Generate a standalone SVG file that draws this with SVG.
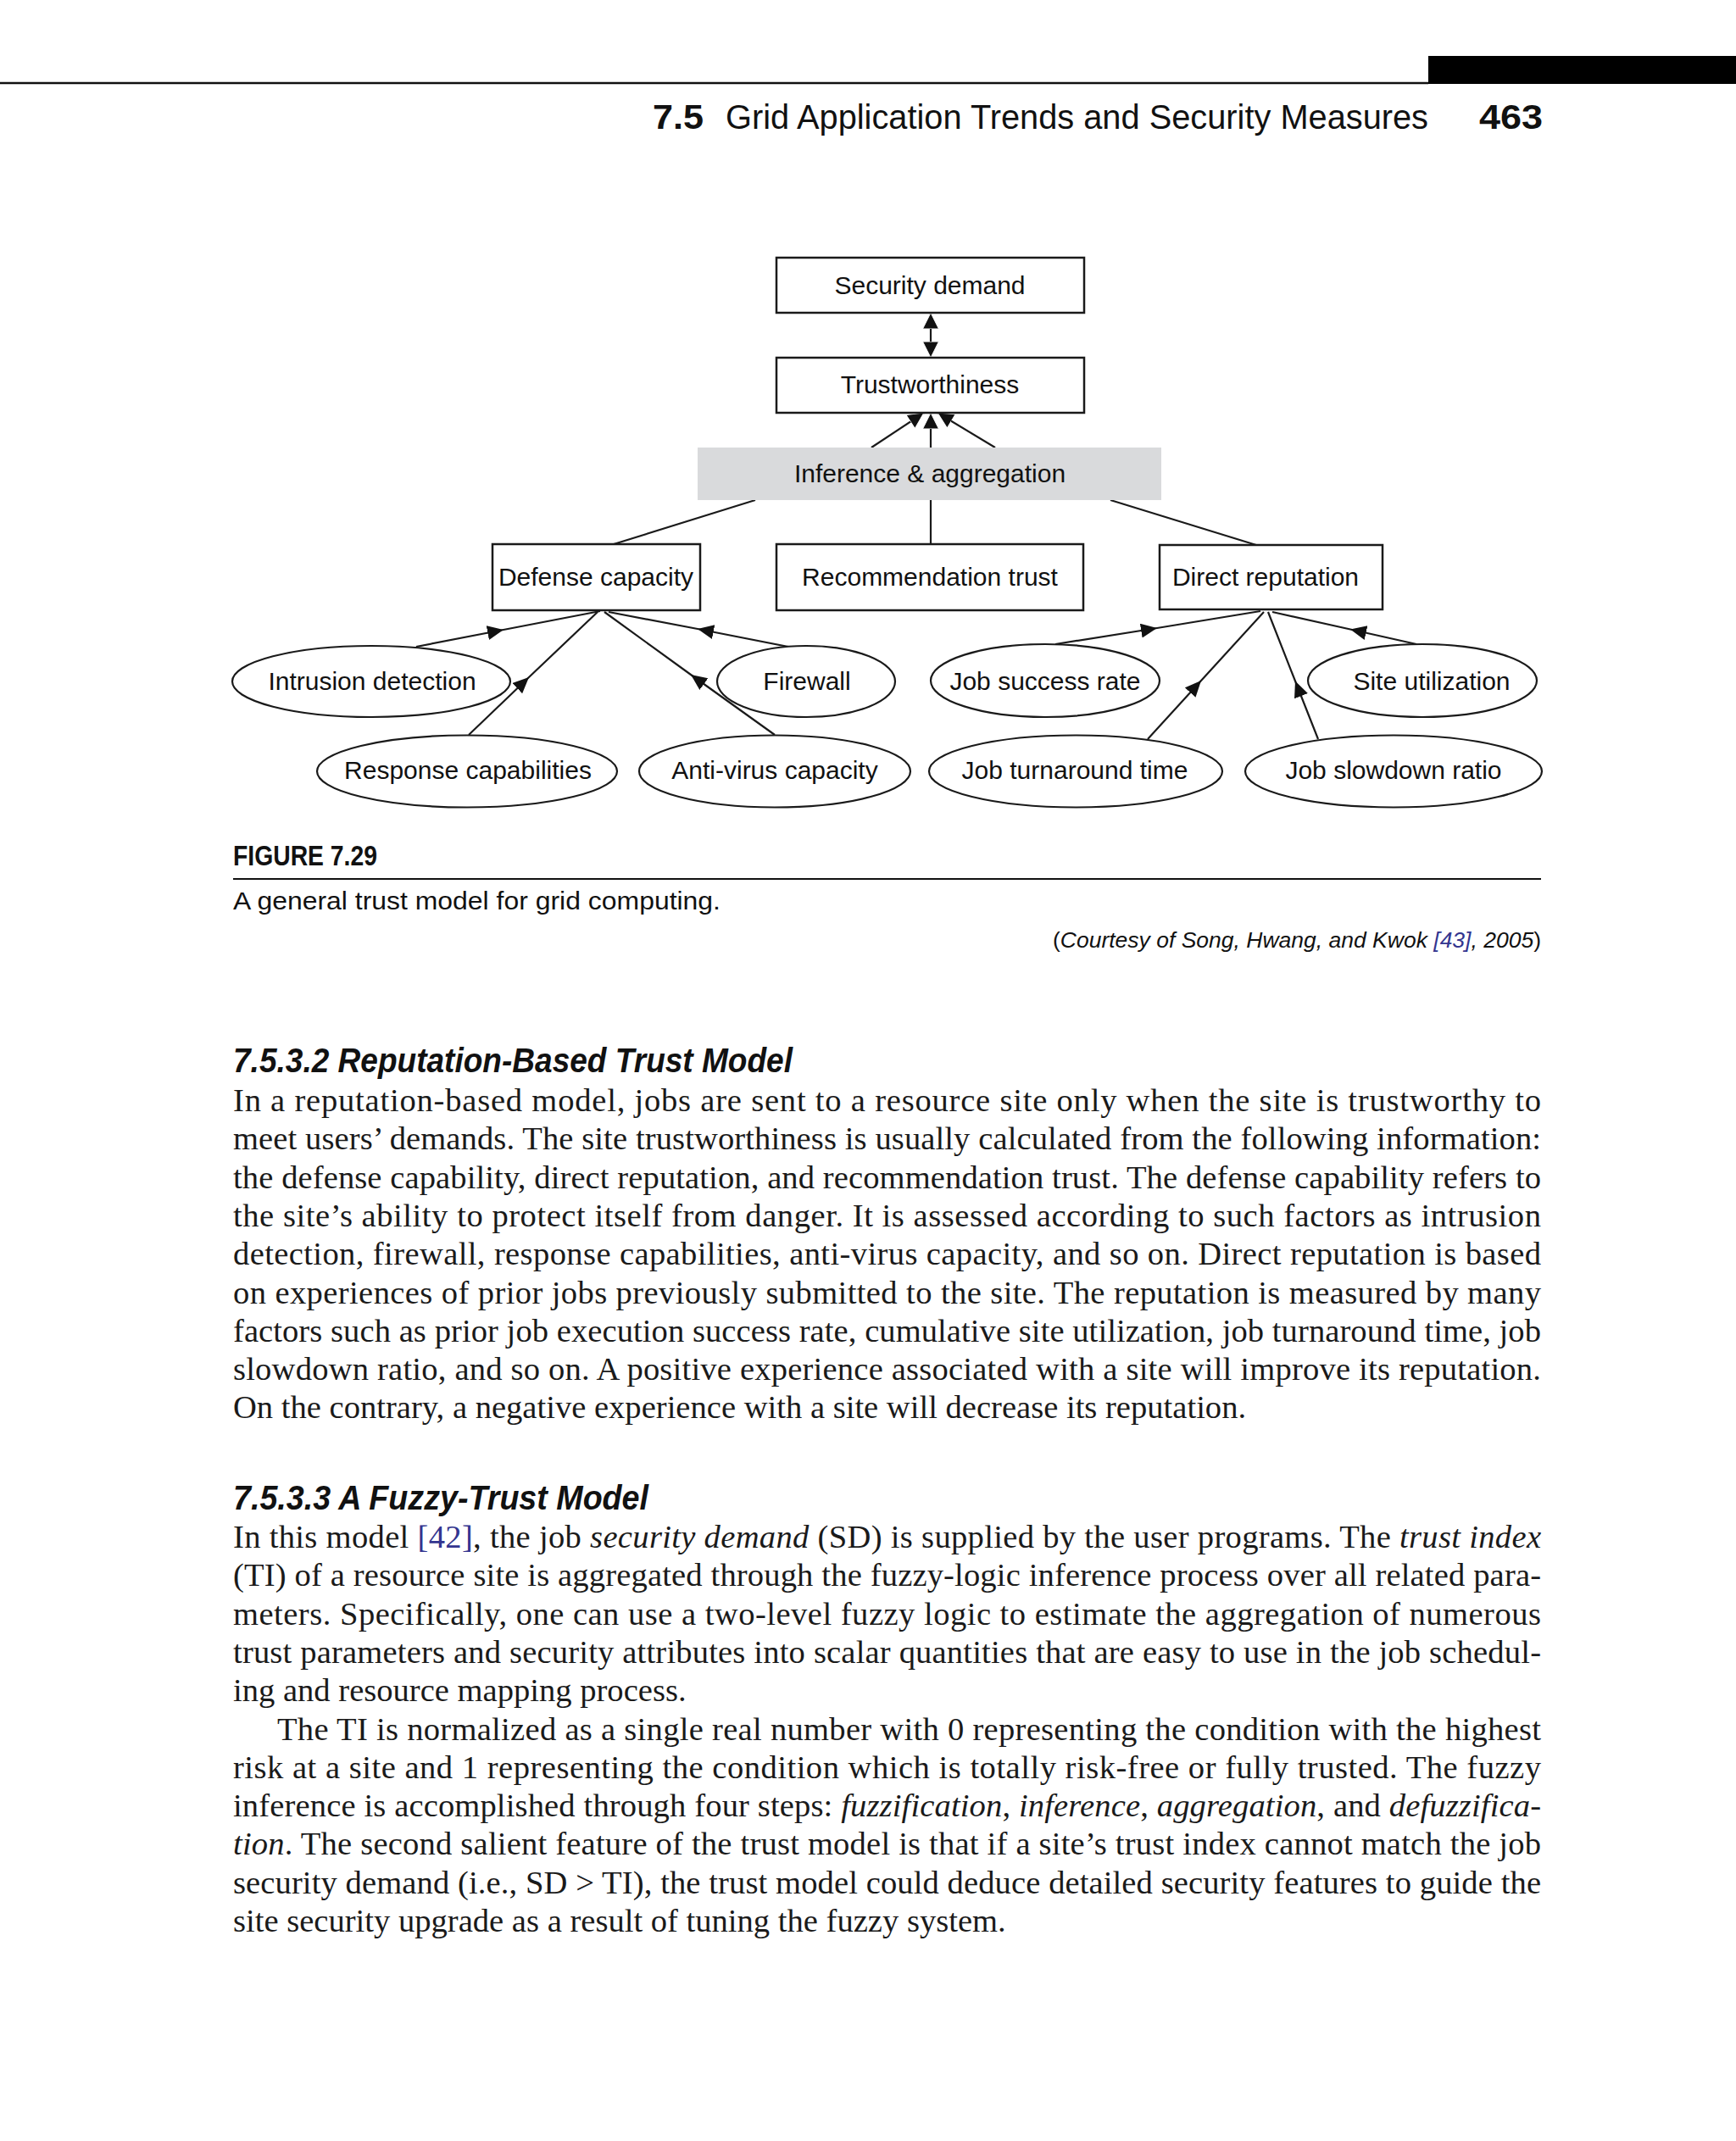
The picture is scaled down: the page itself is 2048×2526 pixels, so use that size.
<svg xmlns="http://www.w3.org/2000/svg" width="2048" height="2526" viewBox="0 0 2048 2526">
<style>
.hd{font-family:"Liberation Sans",Arial,sans-serif;fill:#111}
.nt{font-family:"Liberation Sans",Arial,sans-serif;font-size:30px;fill:#111;text-anchor:middle}
.box{fill:#fff;stroke:#1a1a1a;stroke-width:2.5}
.ell{fill:#fff;stroke:#1a1a1a;stroke-width:2.2}
.ln{fill:none;stroke:#1a1a1a;stroke-width:2.2}
.bd{font-family:"Liberation Serif","Times New Roman",serif;font-size:38.6px;fill:#1a1a1a}
.sh{font-family:"Liberation Sans",Arial,sans-serif;font-size:41px;font-weight:bold;font-style:italic;fill:#111}
.it{font-style:italic}
.ref{fill:#33358f}
</style>
<defs>
<marker id="ah" markerUnits="userSpaceOnUse" markerWidth="22" markerHeight="20" refX="19" refY="9.5" orient="auto-start-reverse" viewBox="0 0 22 20">
<path d="M0,0 L19,9.5 L0,19 z" fill="#111" stroke="#fff" stroke-width="1"/>
</marker>
<marker id="am" markerUnits="userSpaceOnUse" markerWidth="22" markerHeight="20" refX="19" refY="8.5" orient="auto" viewBox="0 0 22 20">
<path d="M0,0 L19,8.5 L0,17 z" fill="#111"/>
</marker>
</defs>
<rect width="2048" height="2526" fill="#fff"/>
<g id="header">
<line x1="0" y1="98" x2="1685" y2="98" stroke="#111" stroke-width="2.5"/>
<rect x="1685" y="66" width="363" height="33" fill="#000"/>
<text class="hd" x="770" y="152" font-size="40" font-weight="bold" textLength="60" lengthAdjust="spacingAndGlyphs">7.5</text>
<text class="hd" x="856" y="152" font-size="40" textLength="829" lengthAdjust="spacingAndGlyphs">Grid Application Trends and Security Measures</text>
<text class="hd" x="1745" y="152" font-size="40" font-weight="bold" textLength="75" lengthAdjust="spacingAndGlyphs">463</text>
</g>
<g id="connectors">
<line class="ln" x1="1098" y1="369" x2="1098" y2="422" marker-start="url(#ah)" marker-end="url(#ah)"/>
<line class="ln" x1="1028" y1="528" x2="1090" y2="487" marker-end="url(#ah)"/>
<line class="ln" x1="1174" y1="528" x2="1106" y2="487" marker-end="url(#ah)"/>
<line class="ln" x1="1098" y1="528" x2="1098" y2="487" marker-end="url(#ah)"/>
<line class="ln" x1="891" y1="590" x2="724" y2="642"/>
<line class="ln" x1="1098" y1="590" x2="1098" y2="642"/>
<line class="ln" x1="1310" y1="590" x2="1482" y2="643"/>
<polyline class="ln" points="491,763 594,743 708,721" marker-mid="url(#am)"/>
<polyline class="ln" points="553,867 624,799 705,722" marker-mid="url(#am)"/>
<polyline class="ln" points="914,867 815,796 713,722" marker-mid="url(#am)"/>
<polyline class="ln" points="930,763 823,742 718,722" marker-mid="url(#am)"/>
<polyline class="ln" points="1245,760 1365,741 1487,721" marker-mid="url(#am)"/>
<polyline class="ln" points="1671,760 1593,742.5 1501,722" marker-mid="url(#am)"/>
<polyline class="ln" points="1354,872 1417,803 1491,722" marker-mid="url(#am)"/>
<polyline class="ln" points="1555,872 1528,803.5 1496,722" marker-mid="url(#am)"/>
</g>
<g id="security-demand"><rect class="box" x="916" y="304" width="363" height="65"/><text class="nt" x="1097" y="347">Security demand</text></g>
<g id="trustworthiness"><rect class="box" x="916" y="422" width="363" height="65"/><text class="nt" x="1097" y="464">Trustworthiness</text></g>
<g id="inference"><rect x="823" y="528" width="547" height="62" fill="#d9dadc"/><text class="nt" x="1097" y="569" fill="#222">Inference &amp; aggregation</text></g>
<g id="defense-capacity"><rect class="box" x="581" y="642" width="245" height="78"/><text class="nt" x="703" y="691">Defense capacity</text></g>
<g id="recommendation-trust"><rect class="box" x="916" y="642" width="362" height="78"/><text class="nt" x="1097" y="691">Recommendation trust</text></g>
<g id="direct-reputation"><rect class="box" x="1368" y="643" width="263" height="76"/><text class="nt" x="1493" y="691">Direct reputation</text></g>
<g id="intrusion-detection"><ellipse class="ell" cx="438" cy="804" rx="164" ry="42"/><text class="nt" x="439" y="814">Intrusion detection</text></g>
<g id="firewall"><ellipse class="ell" cx="951" cy="804" rx="105" ry="42"/><text class="nt" x="952" y="814">Firewall</text></g>
<g id="response-capabilities"><ellipse class="ell" cx="551" cy="910" rx="177" ry="42.5"/><text class="nt" x="552" y="919">Response capabilities</text></g>
<g id="anti-virus-capacity"><ellipse class="ell" cx="914" cy="910" rx="160" ry="42.5"/><text class="nt" x="914" y="919">Anti-virus capacity</text></g>
<g id="job-success-rate"><ellipse class="ell" cx="1233" cy="803" rx="135" ry="43"/><text class="nt" x="1233" y="814">Job success rate</text></g>
<g id="site-utilization"><ellipse class="ell" cx="1678" cy="803" rx="135" ry="43"/><text class="nt" x="1689" y="814">Site utilization</text></g>
<g id="job-turnaround-time"><ellipse class="ell" cx="1269" cy="910" rx="173" ry="42.5"/><text class="nt" x="1268" y="919">Job turnaround time</text></g>
<g id="job-slowdown-ratio"><ellipse class="ell" cx="1644" cy="910" rx="175" ry="42.5"/><text class="nt" x="1644" y="919">Job slowdown ratio</text></g>
<g id="caption">
<text class="hd" x="275" y="1021" font-size="33" font-weight="bold" textLength="170" lengthAdjust="spacingAndGlyphs">FIGURE 7.29</text>
<line x1="275" y1="1037" x2="1818" y2="1037" stroke="#111" stroke-width="2.2"/>
<text class="hd" x="275" y="1073" font-size="29" textLength="575" lengthAdjust="spacingAndGlyphs">A general trust model for grid computing.</text>
<text class="hd" x="1242" y="1118" font-size="25" textLength="576" lengthAdjust="spacingAndGlyphs">(<tspan class="it">Courtesy of Song, Hwang, and Kwok </tspan><tspan class="it ref">[43]</tspan><tspan class="it">, 2005</tspan>)</text>
</g>
<g id="section1">
<text class="sh" x="275" y="1265" textLength="660" lengthAdjust="spacingAndGlyphs">7.5.3.2  Reputation-Based Trust Model</text>
<text class="bd" x="275" y="1311" textLength="1543" lengthAdjust="spacing">In a reputation-based model, jobs are sent to a resource site only when the site is trustworthy to</text>
<text class="bd" x="275" y="1356.3" textLength="1543" lengthAdjust="spacing">meet users’ demands. The site trustworthiness is usually calculated from the following information:</text>
<text class="bd" x="275" y="1401.6" textLength="1543" lengthAdjust="spacing">the defense capability, direct reputation, and recommendation trust. The defense capability refers to</text>
<text class="bd" x="275" y="1446.9" textLength="1543" lengthAdjust="spacing">the site’s ability to protect itself from danger. It is assessed according to such factors as intrusion</text>
<text class="bd" x="275" y="1492.2" textLength="1543" lengthAdjust="spacing">detection, firewall, response capabilities, anti-virus capacity, and so on. Direct reputation is based</text>
<text class="bd" x="275" y="1537.5" textLength="1543" lengthAdjust="spacing">on experiences of prior jobs previously submitted to the site. The reputation is measured by many</text>
<text class="bd" x="275" y="1582.8" textLength="1543" lengthAdjust="spacing">factors such as prior job execution success rate, cumulative site utilization, job turnaround time, job</text>
<text class="bd" x="275" y="1628.1" textLength="1543" lengthAdjust="spacing">slowdown ratio, and so on. A positive experience associated with a site will improve its reputation.</text>
<text class="bd" x="275" y="1673.4">On the contrary, a negative experience with a site will decrease its reputation.</text>
</g>
<g id="section2">
<text class="sh" x="275" y="1781" textLength="490" lengthAdjust="spacingAndGlyphs">7.5.3.3  A Fuzzy-Trust Model</text>
<text class="bd" x="275" y="1826" textLength="1543" lengthAdjust="spacing">In this model <tspan class="ref">[42]</tspan>, the job <tspan class="it">security demand</tspan> (SD) is supplied by the user programs. The <tspan class="it">trust index</tspan></text>
<text class="bd" x="275" y="1871.3" textLength="1543" lengthAdjust="spacing">(TI) of a resource site is aggregated through the fuzzy-logic inference process over all related para-</text>
<text class="bd" x="275" y="1916.6" textLength="1543" lengthAdjust="spacing">meters. Specifically, one can use a two-level fuzzy logic to estimate the aggregation of numerous</text>
<text class="bd" x="275" y="1961.9" textLength="1543" lengthAdjust="spacing">trust parameters and security attributes into scalar quantities that are easy to use in the job schedul-</text>
<text class="bd" x="275" y="2007.2">ing and resource mapping process.</text>
<text class="bd" x="327" y="2052.5" textLength="1491" lengthAdjust="spacing">The TI is normalized as a single real number with 0 representing the condition with the highest</text>
<text class="bd" x="275" y="2097.8" textLength="1543" lengthAdjust="spacing">risk at a site and 1 representing the condition which is totally risk-free or fully trusted. The fuzzy</text>
<text class="bd" x="275" y="2143.1" textLength="1543" lengthAdjust="spacing">inference is accomplished through four steps: <tspan class="it">fuzzification</tspan>, <tspan class="it">inference</tspan>, <tspan class="it">aggregation</tspan>, and <tspan class="it">defuzzifica-</tspan></text>
<text class="bd" x="275" y="2188.4" textLength="1543" lengthAdjust="spacing"><tspan class="it">tion</tspan>. The second salient feature of the trust model is that if a site’s trust index cannot match the job</text>
<text class="bd" x="275" y="2233.7" textLength="1543" lengthAdjust="spacing">security demand (i.e., SD &gt; TI), the trust model could deduce detailed security features to guide the</text>
<text class="bd" x="275" y="2279">site security upgrade as a result of tuning the fuzzy system.</text>
</g>
</svg>
